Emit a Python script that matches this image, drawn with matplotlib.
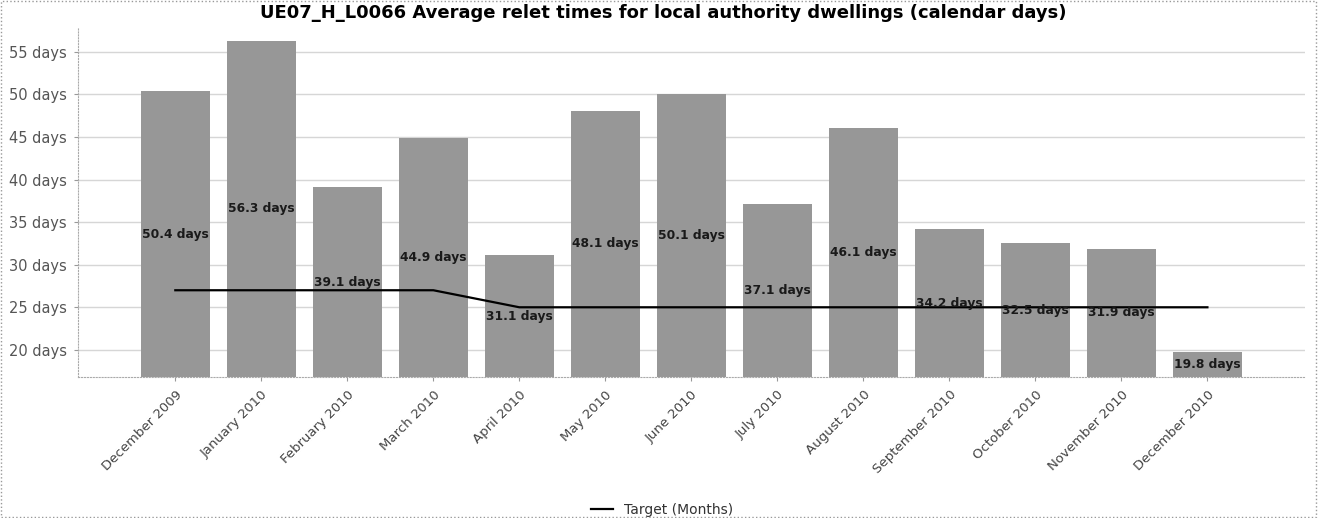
import matplotlib
matplotlib.use('Agg')
import matplotlib.pyplot as plt
import numpy as np
from matplotlib.patches import Rectangle

months = ['December 2009', 'January 2010', 'February 2010', 'March 2010',
          'April 2010', 'May 2010', 'June 2010', 'July 2010', 'August 2010',
          'September 2010', 'October 2010', 'November 2010', 'December 2010']
relet_days = [50.4, 56.3, 39.1, 44.9, 31.1, 48.1, 50.1, 37.1, 46.1,
              34.2, 32.5, 31.9, 19.8]
target = [27, 27, 27, 27, 25, 25, 25, 25, 25, 25, 25, 25, 25]
yticks = [20, 25, 30, 35, 40, 45, 50, 55]


def plot():
    fig = plt.figure(figsize=(13.24, 5.18), dpi=100)
    ax = fig.add_axes([0.059, 0.272, 0.927, 0.674])

    x = np.arange(len(months))
    ymin, ymax = 16.8, 57.8

    ax.bar(x, np.array(relet_days) - ymin, bottom=ymin, width=0.8,
           color='#979797', zorder=2)
    line, = ax.plot(x, target, color='black', lw=1.6, zorder=3,
                    label='Target (Months)')

    # value labels sit halfway up the visible part of each bar
    for xi, v in zip(x, relet_days):
        ax.text(xi, (ymin + v) / 2, '%.1f days' % v, ha='center', va='center',
                fontsize=8.8, fontweight='bold', color='#1a1a1a', zorder=4)

    ax.set_xlim(-1.13, 13.14)
    ax.set_ylim(ymin, ymax)
    ax.set_yticks(yticks)
    ax.set_yticklabels(['%d days' % t for t in yticks])
    ax.set_xticks(x)
    ax.set_xticklabels(months, rotation=45, ha='right', rotation_mode='anchor')

    ax.tick_params(axis='y', labelsize=10.5, labelcolor='#555555', length=3,
                   color='#999999', pad=5)
    ax.tick_params(axis='x', labelsize=9.5, labelcolor='#444444', length=3,
                   color='#999999', pad=5)

    ax.grid(axis='y', color='#d6d6d6', lw=1, zorder=0)
    for side in ['top', 'right']:
        ax.spines[side].set_visible(False)
    for side in ['left', 'bottom']:
        ax.spines[side].set_color('#aaaaaa')
        ax.spines[side].set_linestyle(':')

    fig.text(0.501, 0.975,
             'UE07_H_L0066 Average relet times for local authority dwellings (calendar days)',
             ha='center', va='center', fontsize=13, fontweight='bold')

    fig.legend(handles=[line], loc='lower center', bbox_to_anchor=(0.5, -0.022),
               frameon=False, fontsize=10, handlelength=1.6, labelcolor='#333333')

    fig.patches.append(Rectangle((0.001, 0.001), 0.993, 0.997,
                                 transform=fig.transFigure, fill=False,
                                 edgecolor='#999999', lw=1, ls=':'))

    fig.savefig('out.png', dpi=100, facecolor='white')


if __name__ == '__main__':
    plot()
